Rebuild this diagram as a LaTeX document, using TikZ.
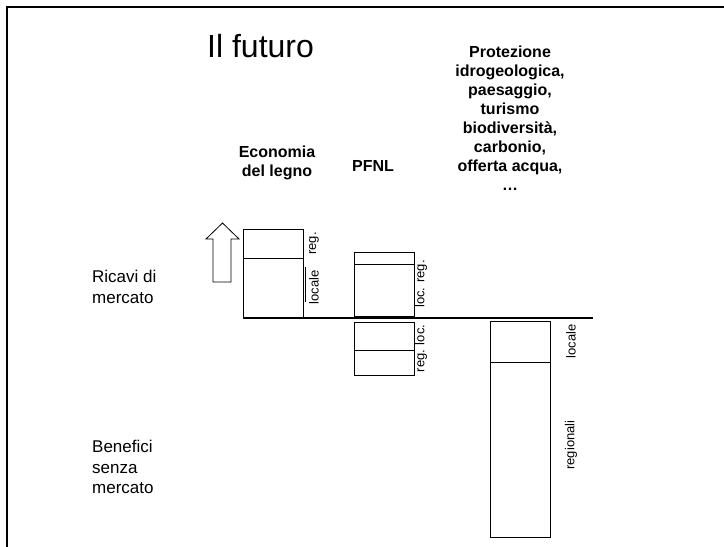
\documentclass[tikz,border=0pt]{standalone}
\usepackage{fontspec}
\setmainfont{Liberation Sans}
\usetikzlibrary{calc}

\begin{document}
\begin{tikzpicture}[x=1pt, y=-1pt,
	box/.style={draw, line width=0.8pt},
	side/.style={font=\fontsize{13}{15}\selectfont, rotate=90, inner sep=0pt},
	head/.style={font=\fontsize{16}{19}\selectfont\bfseries, align=center, inner sep=0pt},
	txt/.style={font=\fontsize{17}{20.5}\selectfont, align=left, inner sep=0pt}]
	\useasboundingbox (0,0) rectangle (724,547);

	% Slide frame
	\draw[line width=2pt] (7,547) -- (7,7) -- (724,7);

	% Title
	\node[font=\fontsize{32}{38}\selectfont, anchor=base west, inner sep=0pt] (title) at (207,57) {Il futuro};

	% Column headings
	\node[head, anchor=north] (eco) at (277,145.5) {Economia\\del legno};
	\node[head, anchor=base] (pfnl) at (373,171) {PFNL};
	\node[head, anchor=north] (prot) at (510,45.5)
		{Protezione\\idrogeologica,\\paesaggio,\\turismo\\biodiversità,\\carbonio,\\offerta acqua,\\\dots};

	% Row labels
	\node[txt, anchor=north west] (ricavi) at (92,270) {Ricavi di\\mercato};
	\node[txt, anchor=north west] (benefici) at (92,440) {Benefici\\senza\\mercato};

	% Zero line
	\coordinate (L) at (243,318);
	\coordinate (R) at (593,318);
	\draw[line width=2.5pt] (L) -- (R);

	% Growth arrow
	\draw[line width=0.8pt] (213,282) -- (213,239) -- (206,239) -- (222.5,223)
		-- (239,239) -- (231,239) -- (231,282) -- cycle;

	% Economia del legno: bars
	\coordinate (E1) at (243,229);
	\coordinate (E2) at (303,258);
	\coordinate (E3) at (303,317);
	\draw[box] (E1) rectangle (E2);
	\draw[box] (E1 |- E2) rectangle (E3);
	\node[side] (ecoReg) at ($(E1 -| E2)!0.5!(E2) + (11,0)$) {reg.};
	\node[side] (ecoLoc) at ($(E2)!0.5!(E3) + (11,0)$) {locale};
	\draw[line width=0.6pt] (305,267) -- (305,302);

	% PFNL: bars above the line
	\coordinate (P1) at (354,252);
	\coordinate (P2) at (414,264);
	\coordinate (P3) at (414,316);
	\draw[box] (P1) rectangle (P2);
	\draw[box] (P1 |- P2) rectangle (P3);
	\node[side] (pfnlUp) at ($(P1 -| P2)!0.5!(P3) + (7,0)$) {loc. reg.};

	% PFNL: bars below the line
	\coordinate (Q1) at (354,322);
	\coordinate (Q2) at (414,350);
	\coordinate (Q3) at (414,375);
	\draw[box] (Q1) rectangle (Q2);
	\draw[box] (Q1 |- Q2) rectangle (Q3);
	\node[side] (pfnlDown) at ($(Q1 -| Q2)!0.5!(Q3) + (7,0)$) {reg. loc.};

	% Non-market benefits: bars
	\coordinate (B1) at (490,321);
	\coordinate (B2) at (550,362);
	\coordinate (B3) at (550,537);
	\draw[box] (B1) rectangle (B2);
	\draw[box] (B1 |- B2) rectangle (B3);
	\node[side] (benLoc) at ($(B1 -| B2)!0.5!(B2) + (21,0)$) {locale};
	\node[side] (benReg) at (571,445) {regionali};
\end{tikzpicture}
\end{document}
